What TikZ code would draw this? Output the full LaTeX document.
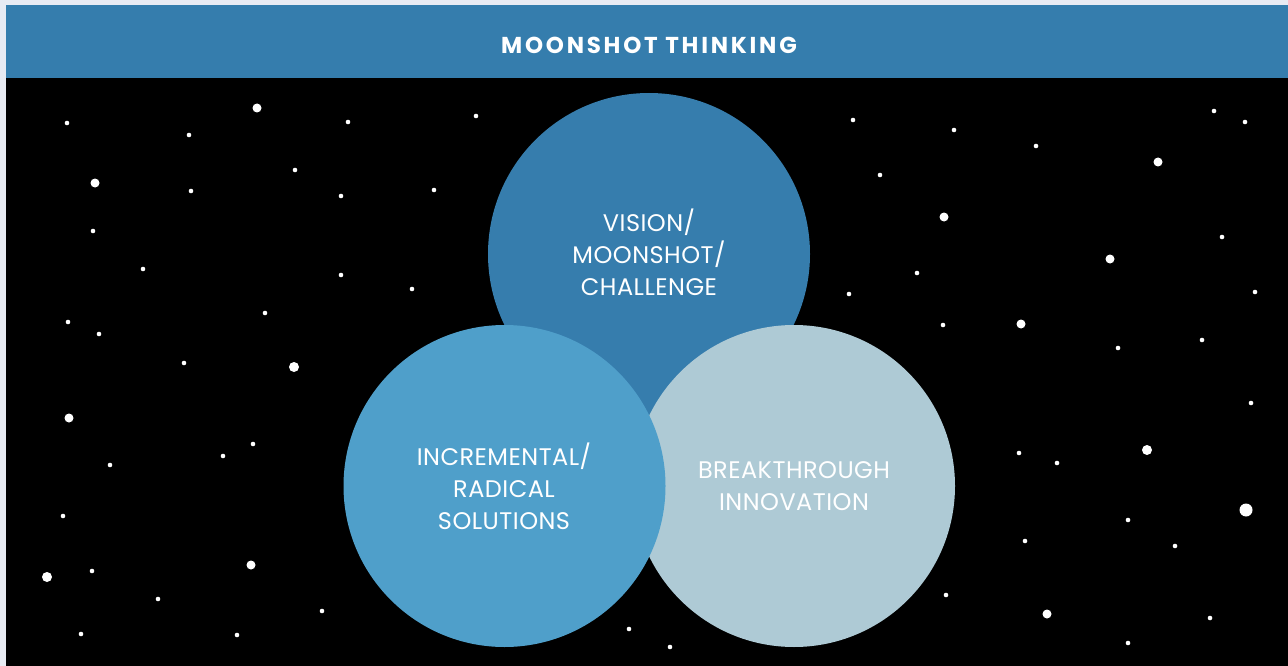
\documentclass[tikz,border=0pt]{standalone}
\usepackage{fontspec}
\setmainfont{Poppins}
\newfontfamily\titlefont[LetterSpace=12]{Poppins}
\newfontfamily\bubblefont[LetterSpace=2]{Poppins}
\definecolor{framec}{HTML}{E8EBF3}
\definecolor{hdrblue}{HTML}{357DAD}
\definecolor{visionc}{HTML}{367DAD}
\definecolor{incrc}{HTML}{4F9FCA}
\definecolor{breakc}{HTML}{AECAD5}
\tikzset{
  bubble/.style={circle, inner sep=0pt, minimum size=322pt},
  bubbletext/.style={text=white, align=center, font=\bubblefont\fontsize{24}{32}\selectfont},
  star/.style={fill=white}
}
\begin{document}
\begin{tikzpicture}[x=1pt,y=-1pt]
\useasboundingbox (0,0) rectangle (1288,666);
\fill[framec] (0,0) rectangle (1288,666);
\fill[black] (6,78) rectangle (1288,666);
\fill[hdrblue] (6,5) rectangle (1288,78);
\node[text=white, font=\titlefont\bfseries\fontsize{23}{26}\selectfont] (title) at (649,45) {MOONSHOT THINKING};
% stars
\foreach \sx/\sy/\sr in {
 67/123/2.3, 257/108/4.5, 189/135/2.3, 348/122/2.3, 476/116/2.3, 295/170/2.3,
 95/183/4.5, 191/191/2.3, 341/196/2.3, 434/190/2.3, 93/231/2.3, 143/269/2.3,
 341/275/2.3, 412/289/2.3, 265/313/2.3, 68/322/2.3, 99/334/2.3, 184/363/2.3,
 294/367/5, 69/418/4.5, 110/465/2.3, 253/444/2.3, 223/456/2.3, 63/516/2.3,
 47/577/5, 92/571/2.3, 251/565/4.5, 158/599/2.3, 322/611/2.3, 81/634/2.3,
 237/635/2.3,
 853/120/2.3, 954/130/2.3, 1036/146/2.3, 1214/111/2.3, 1245/122/2.3, 1158/162/4.5,
 880/175/2.3, 944/217/4.5, 917/273/2.3, 849/294/2.3, 1110/259/4.5, 1222/237/2.3,
 1255/292/2.3, 943/325/2.3, 1021/324/4.5, 1118/348/2.3, 1202/340/2.3,
 1251/403/2.3, 1147/450/5, 1019/453/2.3, 1057/463/2.3, 1246/510/6.5, 1128/520/2.3,
 1025/541/2.3, 1175/546/2.3, 946/595/2.3, 1047/614/4.5, 1210/618/2.3, 1128/643/2.3,
 629/629/2.3, 670/647/2.3}
 {\fill[star] (\sx,\sy) circle (\sr);}
% circles
\node[bubble, fill=visionc] (vision) at (649,254) {};
\node[bubble, fill=breakc] (breakthrough) at (794,486) {};
\node[bubble, fill=incrc] (incremental) at (504.5,486) {};
\node[bubbletext] (visiontext) at (649,252) {VISION/\\MOONSHOT/\\CHALLENGE};
\node[bubbletext] (incrtext) at (504,486) {INCREMENTAL/\\RADICAL\\SOLUTIONS};
\node[bubbletext] (breaktext) at (794,486) {BREAKTHROUGH\\INNOVATION};
\end{tikzpicture}
\end{document}
